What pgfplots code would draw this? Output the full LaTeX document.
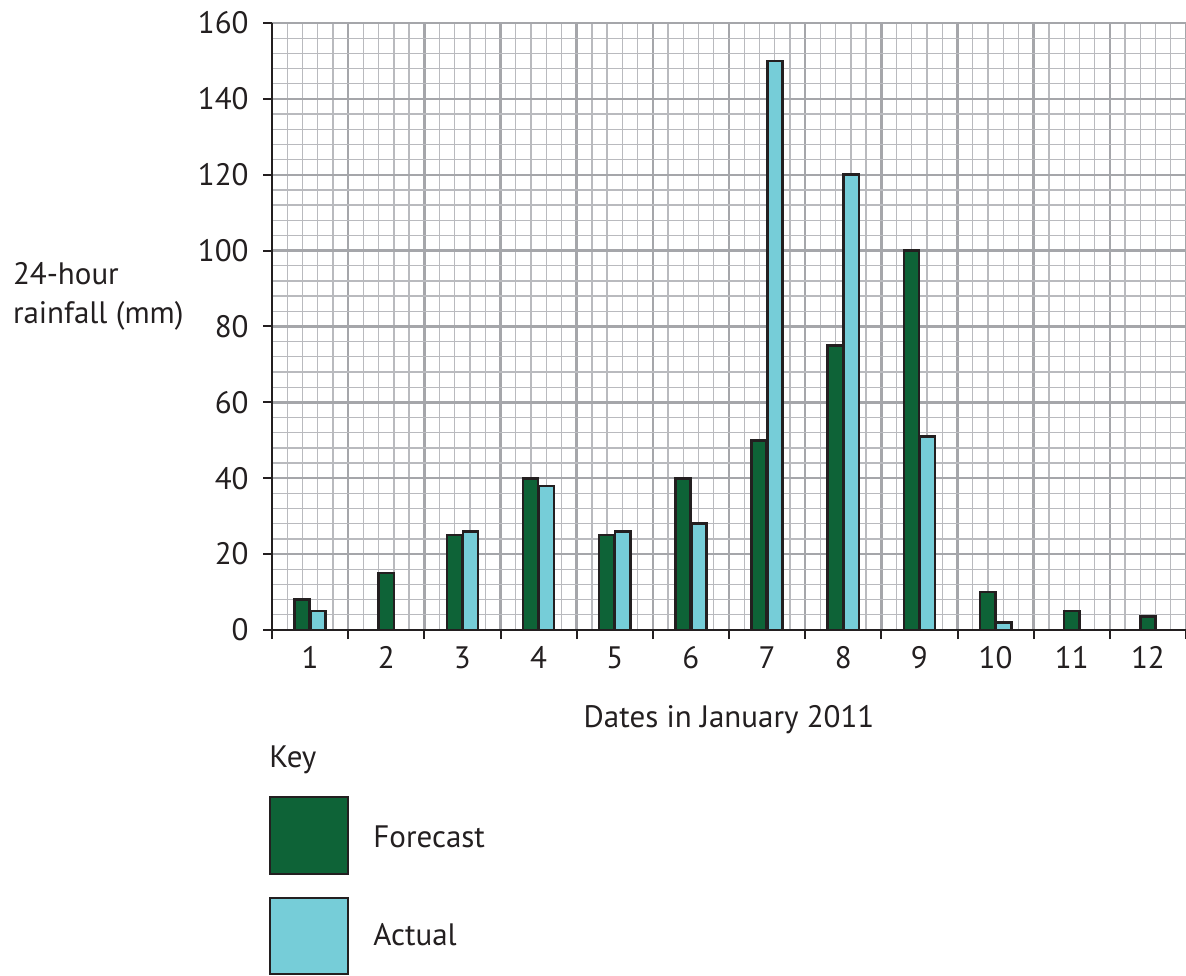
\documentclass[border=0pt]{standalone}
\usepackage{fontspec}
\setmainfont{PT Sans}
\usepackage{pgfplots}
\usepackage{pgfplotstable}
\pgfplotsset{compat=1.18}
\definecolor{fc}{RGB}{14,99,55}
\definecolor{ac}{RGB}{118,205,216}
\definecolor{ink}{RGB}{35,31,32}
\definecolor{gmaj}{RGB}{165,166,170}
\definecolor{gmin}{RGB}{185,186,190}

\pgfplotstableread{
day val
1 8
3 25
4 40
5 25
6 40
7 50
8 75
9 100
10 10
}\forecastpair
\pgfplotstableread{
day val
2 15
11 5
12 3.5
}\forecastsingle
\pgfplotstableread{
day val
1 5
3 26
4 38
5 26
6 28
7 150
8 120
9 51
10 2
}\actual

\begin{document}
\begin{tikzpicture}[x=1pt,y=1pt]
\useasboundingbox (0,0) rectangle (593,487.5);
\begin{axis}[
 at={(136pt,172.5pt)}, anchor=south west,
 scale only axis, width=457pt, height=303.5pt,
 xmin=0.5, xmax=12.5, ymin=0, ymax=160,
 axis x line*=bottom, axis y line*=left,
 axis line style={ink, line width=1.2pt},
 xtick={0.5,1.5,...,12.5}, xticklabels={},
 extra x ticks={1,2,...,12},
 extra x tick labels={1,2,3,4,5,6,7,8,9,10,11,12},
 extra x tick style={grid=none, major tick length=0pt,
   xticklabel style={anchor=base, yshift=-19pt}},
 ytick={0,20,...,160},
 minor x tick num=4, minor y tick num=4,
 grid=both,
 major grid style={gmaj, line width=1.2pt},
 minor grid style={gmin, line width=0.65pt},
 tick align=outside,
 major tick length=4.5pt, minor tick length=0pt,
 tick style={ink, line width=1pt},
 /pgf/number format/assume math mode=true,
 ticklabel style={font=\fontsize{15.5}{18}\selectfont, text=ink},
 yticklabel style={anchor=east, inner sep=0pt, xshift=-7pt},
 ybar, bar width=7.6pt,
 every axis plot/.append style={draw=ink, line width=1.3pt},
]
\addplot[fill=fc, bar shift=-4pt] table[x=day, y=val] {\forecastpair};
\addplot[fill=fc, bar shift=0pt] table[x=day, y=val] {\forecastsingle};
\addplot[fill=ac, bar shift=4pt] table[x=day, y=val] {\actual};
\end{axis}
\begin{scope}[every node/.style={inner sep=0pt, font=\fontsize{15.5}{18}\selectfont, text=ink}]
\node[anchor=base west] at (6.3,345) {24-hour};
\node[anchor=base west] at (6.3,325.5) {rainfall (mm)};
\node[anchor=base] at (364.5,124) {Dates in January 2011};
\node[anchor=base west] at (134.5,104) {Key};
\node[anchor=base west] at (186.5,63.9) {Forecast};
\node[anchor=base west] at (186.5,15) {Actual};
\end{scope}
\draw[ink, line width=1.2pt, fill=fc] (135,50.5) rectangle (174,89);
\draw[ink, line width=1.2pt, fill=ac] (135,0.6) rectangle (174,38.5);
\end{tikzpicture}
\end{document}
